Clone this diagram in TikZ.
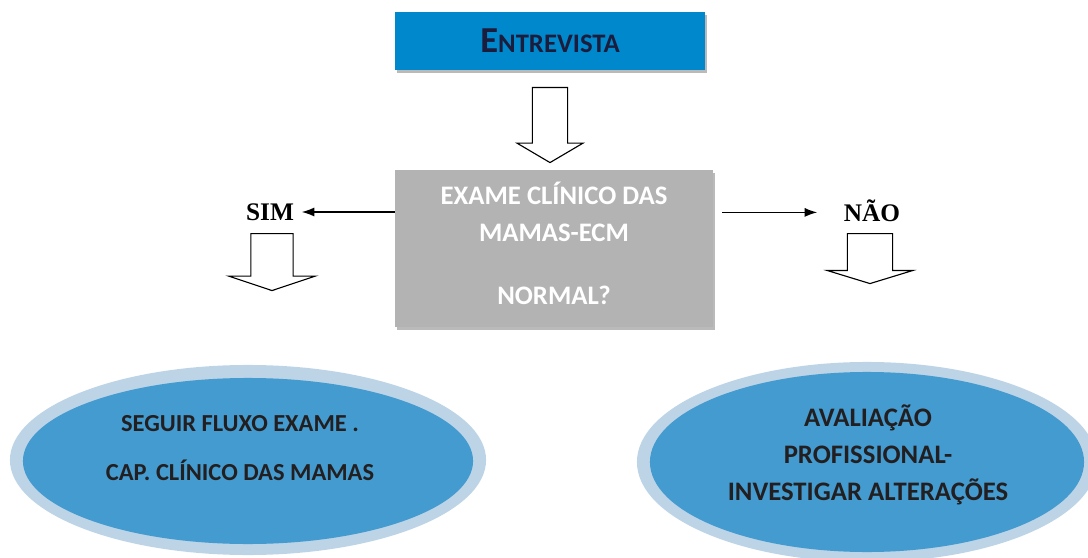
\documentclass[tikz,border=0pt]{standalone}
\usepackage{fontspec}
\setmainfont{Carlito}
\newfontfamily\timesfont{Liberation Serif}
\usepackage{xcolor}
\usetikzlibrary{arrows.meta}
\usetikzlibrary{shapes.geometric}
\usetikzlibrary{shapes.arrows}
\usetikzlibrary{shadows}
\definecolor{boxblue}{RGB}{0,136,204}
\definecolor{boxgray}{RGB}{179,179,179}
\definecolor{ringblue}{RGB}{189,212,231}
\definecolor{innerblue}{RGB}{67,155,208}
\definecolor{navytext}{RGB}{28,28,60}
\definecolor{darktext}{RGB}{35,31,32}
\newcommand{\ellfont}{\fontsize{17.4}{35}\selectfont\bfseries\color{darktext}}

\begin{document}
\begin{tikzpicture}[x=0.025cm,y=-0.025cm,
    boxshadow/.style={drop shadow={shadow xshift=1.5pt,shadow yshift=-2pt,fill=black!45,opacity=.6}},
    hollow/.style={single arrow,draw=black,fill=white,thick,rotate=-90,anchor=tail,
        inner xsep=0pt,single arrow head indent=0pt}]
                \useasboundingbox (0,0) rectangle (1088,558);

                % boxes
                \node[fill=boxblue,boxshadow,minimum width=7.75cm,minimum height=1.45cm,
                    text=navytext,font=\bfseries] (entrevista) at (550,41)
                    {\fontsize{26}{26}\selectfont E\fontsize{19}{19}\selectfont NTREVISTA};
                \node[fill=boxgray,boxshadow,minimum width=7.95cm,minimum height=3.925cm] (exame) at (554,248.5) {};
                \node[text=white,align=center,font=\fontsize{19}{26.3}\selectfont\bfseries] (exametxt)
                    at ([yshift=3.6pt]exame.center)
                    {EXAME CLÍNICO DAS\\MAMAS-ECM\\[18pt]NORMAL?};

                % answers
                \begin{scope}[every node/.style={font=\timesfont\fontsize{18}{18}\selectfont\bfseries}]
                    \node (sim) at (270,212) {SIM};
                    \node (nao) at (872,211) {NÃO};
                \end{scope}

                \begin{scope}[>={Latex[length=9pt,width=6.5pt]},line width=1pt]
                    \draw [->] (exame.west |- sim) -- ([xshift=2pt]sim.east);
                    \draw [->,shorten <=6.5pt] ([yshift=-1pt]exame.east |- nao) -- ([xshift=-15.4pt,yshift=-1pt]nao.west);
                \end{scope}

                % hollow arrows
                \node[hollow,minimum height=1.875cm,inner ysep=0.425cm,
                    single arrow head extend=0.3875cm,single arrow tip angle=119] (down) at (550,87) {};
                \node[hollow,minimum height=1.425cm,inner ysep=0.5125cm,
                    single arrow head extend=0.55cm,single arrow tip angle=143] (downsim) at (272,233) {};
                \node[hollow,minimum height=1.25cm,inner ysep=0.55cm,
                    single arrow head extend=0.51cm,single arrow tip angle=146] (downnao) at (870,233) {};

                % outcomes
                \begin{scope}[every node/.style={ellipse,inner sep=0pt}]
                    \node[fill=ringblue,minimum width=11.9cm,minimum height=4.75cm] (ringsim) at (248,460) {};
                    \node[fill=innerblue,minimum width=11.25cm,minimum height=4.15cm] (seguir) at (248,461) {};
                    \node[fill=ringblue,minimum width=11.5cm,minimum height=5cm] (ringnao) at (867,462) {};
                    \node[fill=innerblue,minimum width=10.85cm,minimum height=4.5cm] (avaliacao) at (867,462) {};
                \end{scope}
                \node[align=center,font=\ellfont] (seguirtxt) at (240,448)
                    {SEGUIR FLUXO EXAME .\\CAP. CLÍNICO DAS MAMAS};
                \node[align=center,font=\fontsize{19}{26.3}\selectfont\bfseries\color{darktext}] (avaliacaotxt) at (868,455)
                    {AVALIAÇÃO\\PROFISSIONAL-\\INVESTIGAR ALTERAÇÕES};
            \end{tikzpicture}
\end{document}
